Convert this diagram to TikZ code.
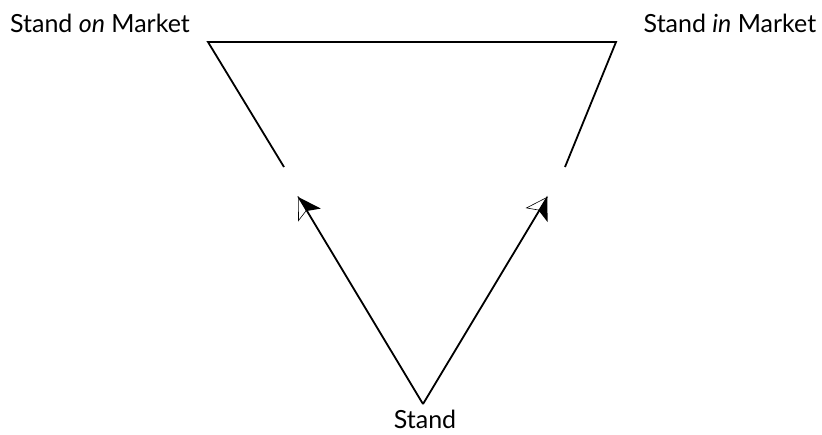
\documentclass[tikz,border=0pt]{standalone}
\usepackage{fontspec}
\setmainfont{Lato}
\usetikzlibrary{arrows.meta, positioning}
\tikzstyle{market} = [inner sep=0pt, anchor=base, font=\fontsize{25}{30}\selectfont]
\tikzstyle{side} = [line width=1.8pt]
\tikzstyle{halffill} = [side, -{Stealth[harpoon, swap, length=21pt, width=26pt, inset=5pt]}]
\tikzstyle{halfopen} = [line width=0.6pt, -{Stealth[harpoon, open, length=21pt, width=26pt, inset=5pt]}, shorten >=0.4pt]

\begin{document}
\begin{tikzpicture}[x=1pt, y=-1pt]
        \useasboundingbox (0,0) rectangle (822,434);
        \node[market] (onmkt) at (100,32) {Stand \textit{on} Market};
        \node[market] (inmkt) at (730,32) {Stand \textit{in} Market};
        \node[market] (stand) at (425,428) {Stand};
        % corners and gap ends
        \coordinate (oncorner) at (208,42);
        \coordinate (incorner) at (616,42);
        \coordinate (ongap) at (284,167);
        \coordinate (ingap) at (565,167);
        \coordinate (apex) at (423,404);
        \coordinate (ontip) at (298,196);
        \coordinate (intip) at (548,196);
        \draw[side] (ongap) -- (oncorner) -- (incorner) -- (ingap);
        \draw[halffill] (apex) -- (ontip);
        \draw[halfopen] (apex) -- (ontip);
        \draw[halffill] (apex) -- (intip);
        \draw[halfopen] (apex) -- (intip);
    \end{tikzpicture}
\end{document}
